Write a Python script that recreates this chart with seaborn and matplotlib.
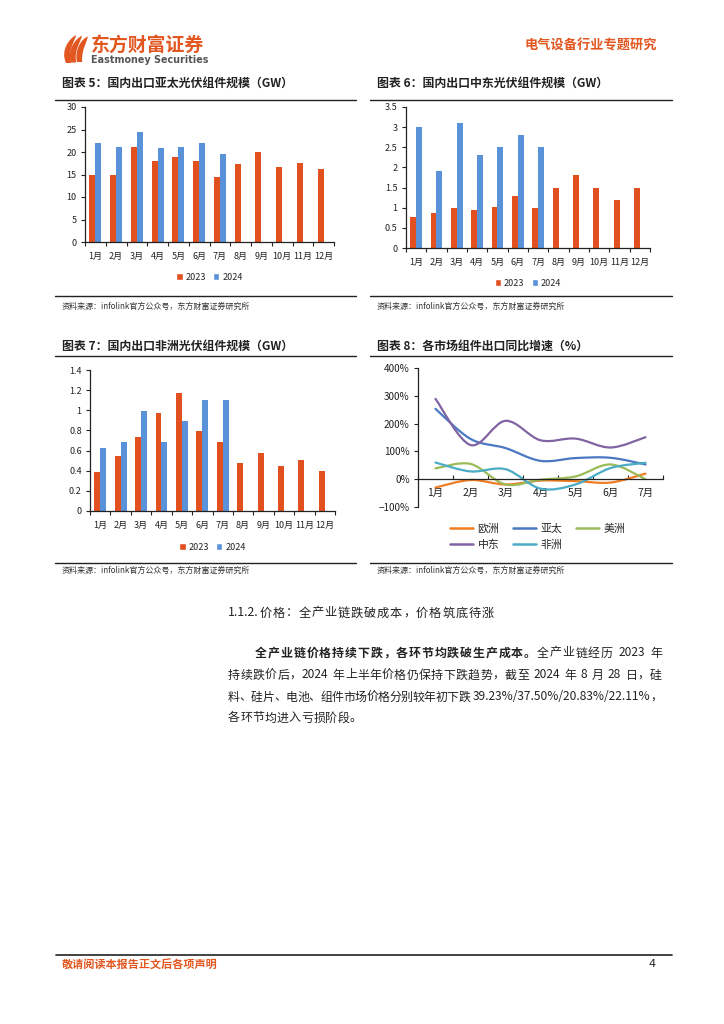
import numpy as np
import pandas as pd
import matplotlib
matplotlib.use("Agg")
import matplotlib.pyplot as plt
import seaborn as sns
from matplotlib.path import Path
from matplotlib.patches import PathPatch, Patch
from matplotlib.lines import Line2D
from matplotlib.transforms import Affine2D

# ---------------- data ----------------
months = ["1月", "2月", "3月", "4月", "5月", "6月", "7月", "8月", "9月", "10月", "11月", "12月"]
years = ["2023", "2024"]

apac_2023 = [14.9, 14.8, 21.2, 18.1, 19.0, 18.1, 14.5, 17.3, 19.9, 16.6, 17.6, 16.2]
apac_2024 = [21.9, 21.2, 24.5, 20.9, 21.2, 22.1, 19.6]

me_2023 = [0.77, 0.86, 1.0, 0.95, 1.02, 1.30, 1.0, 1.5, 1.8, 1.5, 1.2, 1.5]
me_2024 = [3.0, 1.9, 3.1, 2.3, 2.5, 2.8, 2.5]

af_2023 = [0.39, 0.55, 0.735, 0.97, 1.175, 0.79, 0.69, 0.48, 0.58, 0.45, 0.51, 0.40]
af_2024 = [0.63, 0.69, 0.99, 0.69, 0.89, 1.10, 1.10]

yoy_months = ["1月", "2月", "3月", "4月", "5月", "6月", "7月"]
yoy_europe = [-30, -3, -19, -5, -7, -12, 20]
yoy_apac = [253, 145, 112, 66, 76, 77, 53]
yoy_america = [39, 55, -19, -2, 10, 53, 0]
yoy_mideast = [289, 123, 210, 140, 146, 114, 151]
yoy_africa = [60, 28, 36, -34, -19, 40, 59]
yoy_names = ["欧洲", "亚太", "美洲", "中东", "非洲"]

# ---------------- style ----------------
sns.set_theme(style="ticks")
plt.rcParams["font.family"] = ["Noto Sans CJK SC", "DejaVu Sans"]
plt.rcParams["axes.unicode_minus"] = False

C23 = "#E2501F"
C24 = "#5A92DA"
RED = "#E2561F"
LINE_COLORS = ["#F07D22", "#4A78C2", "#9BBB59", "#8064A2", "#4BACC6"]
TXT = "#222222"

W, H = 724, 1024
fig = plt.figure(figsize=(7.24, 10.24), dpi=100)
fig.patch.set_facecolor("white")
pix = Affine2D().scale(1.0 / W, -1.0 / H).translate(0, 1) + fig.transFigure


def ax_at(l, t, r, b):
    return fig.add_axes([l / W, 1 - b / H, (r - l) / W, (b - t) / H])


def ft(x, y, s, **kw):
    return fig.text(x / W, 1 - y / H, s, **kw)


def hline(x0, x1, y, lw=1.0, color="#222222"):
    fig.add_artist(Line2D([x0 / W, x1 / W], [1 - y / H, 1 - y / H], transform=fig.transFigure,
                          color=color, lw=lw))


def style_axis(ax):
    for s in ["top", "right"]:
        ax.spines[s].set_visible(False)
    for s in ["left", "bottom"]:
        ax.spines[s].set_color("#222222")
        ax.spines[s].set_linewidth(0.9)
    ax.set_xlabel("")
    ax.set_ylabel("")
    ax.set_facecolor("white")


def bar_chart(box, v23, v24, ymax, ystep, legend_y):
    ax = ax_at(*box)
    df = pd.DataFrame({
        "month": months + months[:len(v24)],
        "year": ["2023"] * len(v23) + ["2024"] * len(v24),
        "value": v23 + v24,
    })
    sns.barplot(data=df, x="month", y="value", hue="year", order=months, hue_order=years,
                palette=[C23, C24], width=0.58, saturation=1, linewidth=0, legend=False, ax=ax)
    style_axis(ax)
    ax.set_xlim(-0.5, 11.5)
    ax.set_ylim(0, ymax)
    ticks = np.round(np.arange(0, ymax + 1e-9, ystep), 3)
    ax.set_yticks(ticks)
    ax.set_yticklabels([f"{v:g}" for v in ticks])
    ax.set_xticks(np.arange(-0.5, 12, 1), minor=True)
    ax.tick_params(axis="x", which="major", length=0, pad=7, labelsize=6.5, colors=TXT)
    ax.tick_params(axis="x", which="minor", length=3, width=0.8, direction="out", color="#222222")
    ax.tick_params(axis="y", which="major", length=3, width=0.8, direction="out", labelsize=6.5,
                   pad=3, colors=TXT)
    cx = (box[0] + box[2]) / 2
    handles = [Patch(facecolor=C23), Patch(facecolor=C24)]
    fig.legend(handles, years, loc="center", bbox_to_anchor=(cx / W, 1 - legend_y / H), ncol=2,
               frameon=False, fontsize=6.5, handlelength=0.7, handleheight=0.7, handletextpad=0.3,
               columnspacing=0.8, borderpad=0)
    return ax


def smooth_path(xs, ys):
    pts = np.column_stack([xs, ys]).astype(float)
    n = len(pts)
    verts = [pts[0]]
    codes = [Path.MOVETO]
    for i in range(n - 1):
        p0 = pts[i - 1] if i > 0 else pts[i]
        p1 = pts[i]
        p2 = pts[i + 1]
        p3 = pts[i + 2] if i + 2 < n else pts[i + 1]
        c1 = p1 + (p2 - p0) / 6.0
        c2 = p2 - (p3 - p1) / 6.0
        verts += [c1, c2, p2]
        codes += [Path.CURVE4] * 3
    return Path(verts, codes)


# ---------------- header ----------------
# logo icon: three sweeping blades
for i, (bx, tx) in enumerate([(66, 76), (71, 82), (77, 88)]):
    w = 3.2
    verts = [(bx, 63 - i * 0.5), (bx - 6 + i * 1.5, 50), (tx - 6, 38), (tx, 35 + i * 0.8),
             (tx - 4 + w, 41), (bx - 2 + i * 1.5 + w, 50), (bx + w + 2, 63 - i * 0.5), (bx, 63 - i * 0.5)]
    codes = [Path.MOVETO, Path.CURVE4, Path.CURVE4, Path.CURVE4,
             Path.CURVE4, Path.CURVE4, Path.CURVE4, Path.CLOSEPOLY]
    fig.add_artist(PathPatch(Path(verts, codes), facecolor=RED, edgecolor="none", transform=pix))

ft(91, 45, "东方财富证券", fontsize=13.6, weight="bold", color=RED, va="center", ha="left")
ft(91, 60, "Eastmoney Securities", fontsize=6.9, weight="bold", color="#555555", va="center",
   ha="left", family=["DejaVu Sans"])
ft(657, 45, "电气设备行业专题研究", fontsize=9.5, weight="bold", color=RED, va="center", ha="right")

# ---------------- chart titles & rules ----------------
ft(62, 83, "图表 5：国内出口亚太光伏组件规模（GW）", fontsize=8.6, weight="bold", color=TXT, va="center")
ft(377, 83, "图表 6：国内出口中东光伏组件规模（GW）", fontsize=8.6, weight="bold", color=TXT, va="center")
hline(55, 356, 100)
hline(370, 672, 100)
hline(55, 356, 296)
hline(370, 672, 296)
src = "资料来源：infolink官方公众号，东方财富证券研究所"
ft(62, 306, src, fontsize=5.8, color="#333333", va="center")
ft(377, 306, src, fontsize=5.8, color="#333333", va="center")

ft(62, 346, "图表 7：国内出口非洲光伏组件规模（GW）", fontsize=8.6, weight="bold", color=TXT, va="center")
ft(377, 346, "图表 8：各市场组件出口同比增速（%）", fontsize=8.6, weight="bold", color=TXT, va="center")
hline(55, 356, 356)
hline(370, 672, 356)
hline(55, 356, 563)
hline(370, 672, 563)
ft(62, 570, src, fontsize=5.8, color="#333333", va="center")
ft(377, 570, src, fontsize=5.8, color="#333333", va="center")

# ---------------- bar charts ----------------
bar_chart((85, 107, 334, 242), apac_2023, apac_2024, 30, 5, 277)
bar_chart((406, 107, 650, 248), me_2023, me_2024, 3.5, 0.5, 283)
bar_chart((90, 370, 335, 511), af_2023, af_2024, 1.4, 0.2, 547)

# ---------------- line chart ----------------
ax = ax_at(418, 368, 663, 507)
style_axis(ax)
ax.set_xlim(-0.5, 6.5)
ax.set_ylim(-100, 400)
xs = np.arange(len(yoy_months))
series = [yoy_europe, yoy_apac, yoy_america, yoy_mideast, yoy_africa]
for vals, col in zip(series, LINE_COLORS):
    ax.add_patch(PathPatch(smooth_path(xs, vals), fill=False, edgecolor=col, lw=1.6,
                           capstyle="round", joinstyle="round"))
ax.spines["bottom"].set_position(("data", 0))
ax.set_xticks(xs)
ax.set_xticklabels(yoy_months)
ax.set_xticks(np.arange(-0.5, 7, 1), minor=True)
ax.tick_params(axis="x", which="major", length=0, pad=6, labelsize=7.5, colors=TXT)
ax.tick_params(axis="x", which="minor", length=3, width=0.8, direction="in", color="#222222")
yt = np.arange(-100, 401, 100)
ax.set_yticks(yt)
ax.set_yticklabels([("−" if v < 0 else "") + f"{abs(v)}%" for v in yt])
ax.tick_params(axis="y", which="major", length=3, width=0.8, direction="out", labelsize=7.2,
               pad=3, colors=TXT)
lh = [Line2D([], [], color=c, lw=1.8) for c in LINE_COLORS]
order = [0, 3, 1, 4, 2]
fig.legend([lh[i] for i in order], [yoy_names[i] for i in order], loc="upper left",
           bbox_to_anchor=(445 / W, 1 - 518 / H), ncol=3, frameon=False, fontsize=7.8,
           handlelength=2.1, handletextpad=0.4, columnspacing=1.3, labelspacing=0.55, borderpad=0)

# ---------------- body text ----------------
renderer = fig.canvas.get_renderer()


def text_line(tokens, x0, y, size, x1=None, gap=0.0, color=TXT):
    pieces = []
    for s, w in tokens:
        buf = ""
        for ch in s:
            if ord(ch) < 128 and ch != " ":
                buf += ch
            else:
                if buf:
                    pieces.append((buf, w))
                    buf = ""
                pieces.append((ch, w))
        if buf:
            pieces.append((buf, w))
    items = []
    for s, w in pieces:
        if s == " ":
            items.append((None, size * 100 / 72 * 0.3))
        else:
            t = fig.text(0, 0, s, fontsize=size, weight=w, color=color, va="center", ha="left")
            items.append((t, t.get_window_extent(renderer).width))
    total = sum(wd for _, wd in items)
    if x1 is not None and len(items) > 1:
        gap = (x1 - x0 - total) / (len(items) - 1)
    x = x0
    for t, wd in items:
        if t is not None:
            t.set_position((x / W, 1 - y / H))
        x += wd + gap


text_line([("1.1.2.价格：全产业链跌破成本，价格筑底待涨", "normal")], 228, 613, 8.8, gap=0.8)
text_line([("全产业链价格持续下跌，各环节均跌破生产成本。", "bold"),
           ("全产业链经历 2023 年", "normal")], 255, 653, 8.6, x1=662)
text_line([("持续跌价后，2024 年上半年价格仍保持下跌趋势，截至 2024 年 8 月 28 日，硅", "normal")],
          228, 675, 8.6, x1=662)
text_line([("料、硅片、电池、组件市场价格分别较年初下跌 39.23%/37.50%/20.83%/22.11%，", "normal")],
          228, 697, 8.6, x1=662)
text_line([("各环节均进入亏损阶段。", "normal")], 228, 718, 8.6, gap=0.3)

# ---------------- footer ----------------
hline(56, 672, 955, lw=1.2)
ft(62, 965, "敬请阅读本报告正文后各项声明", fontsize=8.0, weight="bold", color=RED, va="center")
ft(648, 964, "4", fontsize=8.0, color=TXT, va="center", family=["DejaVu Sans"])

fig.savefig("out.png", dpi=100, facecolor="white")
